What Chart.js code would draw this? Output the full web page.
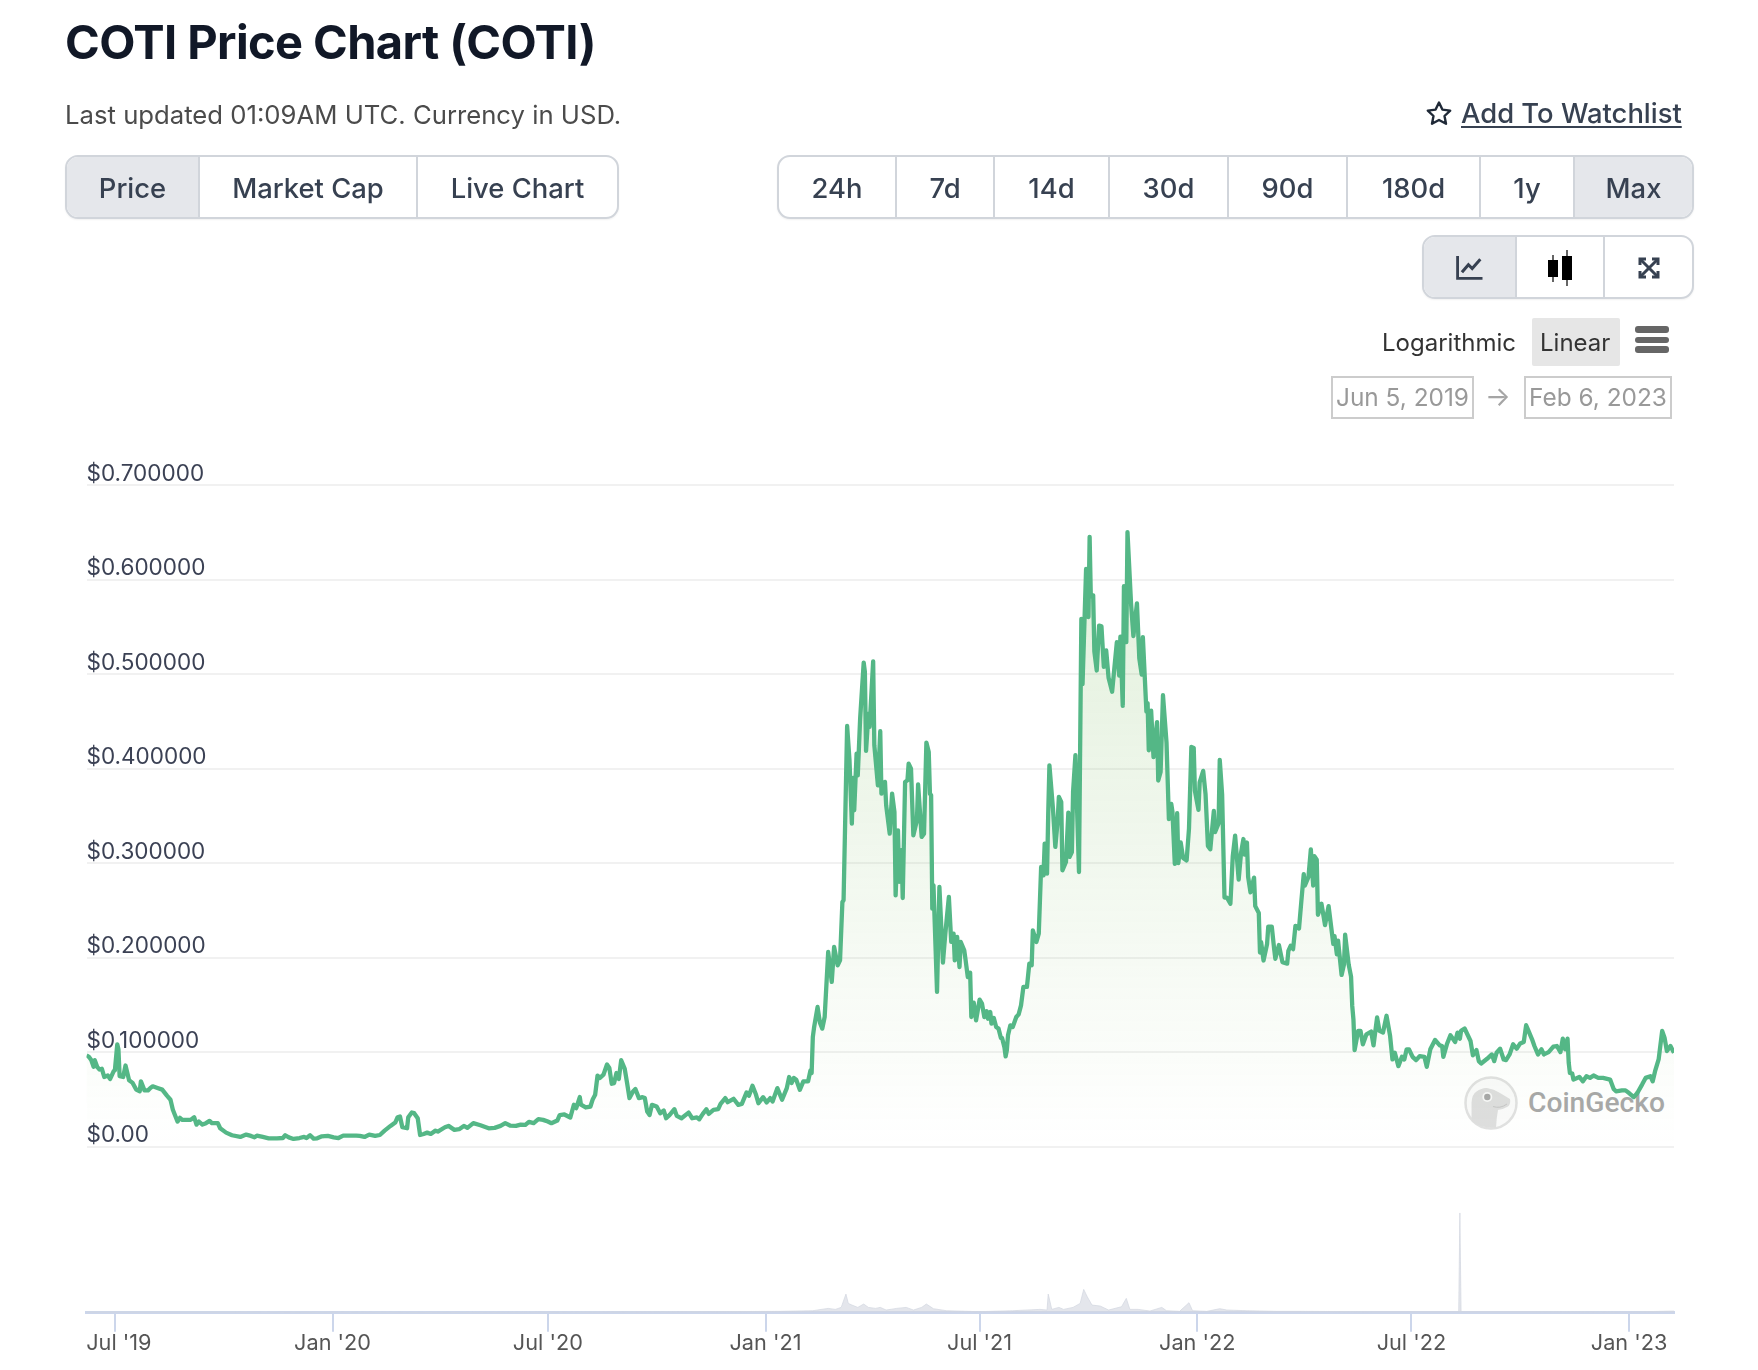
<!DOCTYPE html>
<html lang="en">
<head>
  <meta charset="UTF-8">
  <title>COTI Price Chart (COTI)</title>
  <style>
    html, body { margin: 0; padding: 0; background: #fff; }
    body { width: 1758px; height: 1370px; position: relative; overflow: hidden; font-family: Inter, 'Noto Sans', sans-serif; }
    .abs { position: absolute; white-space: nowrap; }
    h1 { margin: 0; left: 65px; top: 15px; font-size: 47px; line-height: 54px; font-weight: 700; color: #111827; letter-spacing: -0.6px; }
    .updated { left: 65px; top: 100px; font-size: 25.7px; line-height: 30px; color: #4b4b4b; }
    .watch { left: 1461px; top: 96px; font-size: 27.4px; line-height: 34px; font-weight: 500; color: #374151; text-decoration: underline; text-underline-offset: 3px; }
    .group { display: flex; box-sizing: border-box; height: 64px; border: 2px solid #d1d5db; border-radius: 13px; overflow: hidden; box-shadow: 0 1px 2px rgba(0,0,0,.06); background: #fff; }
    .group div { box-sizing: border-box; height: 100%; display: flex; align-items: center; justify-content: center; font-size: 27.4px; font-weight: 500; color: #374151; padding-top: 1px; border-right: 2px solid #d1d5db; }
    .group div:last-child { border-right: none; }
    .group .on { background: #e5e7eb; }
    .scale { top: 328px; font-size: 24px; line-height: 30px; color: #333; }
    .linear-bg { left: 1532px; top: 318px; width: 88px; height: 48px; background: #e6e6e6; border-radius: 2px; }
    .date { box-sizing: border-box; top: 376px; height: 43px; border: 2px solid #ccc; font-size: 24.4px; line-height: 39px; color: #999; text-align: center; }
    .bar { left: 1635px; width: 34px; height: 6.5px; border-radius: 3px; background: #666; }
    #chart { position: absolute; left: 0; top: 0; z-index: 2; }
    .mark { left: 1464px; top: 1076px; z-index: 1; opacity: .85; }
    .mark-text { left: 1528px; top: 1085px; z-index: 1; font-family: Roboto, sans-serif; font-size: 28.2px; line-height: 36px; font-weight: 500; color: #a8a8a8; }
    .ui { z-index: 3; }
  </style>
</head>
<body>

  <h1 class="abs ui">COTI Price Chart (COTI)</h1>
  <div class="abs ui updated">Last updated 01:09AM UTC. Currency in USD.</div>

  <svg class="abs ui" style="left:1425px;top:100px" width="28" height="27" viewBox="0 0 28 27">
    <path d="M14 2.5 L17.4 9.6 L25.2 10.6 L19.5 16 L21 23.8 L14 20 L7 23.8 L8.5 16 L2.8 10.6 L10.6 9.6 Z" fill="none" stroke="#1f2937" stroke-width="2.4" stroke-linejoin="round"/>
  </svg>
  <div class="abs ui watch">Add To Watchlist</div>

  <div class="abs ui group" style="left:65px;top:155px;width:554px">
    <div class="on" style="width:133px">Price</div>
    <div style="width:218px">Market Cap</div>
    <div style="width:199px">Live Chart</div>
  </div>

  <div class="abs ui group" style="left:777px;top:155px;width:917px">
    <div style="width:118px">24h</div>
    <div style="width:98px">7d</div>
    <div style="width:115px">14d</div>
    <div style="width:119px">30d</div>
    <div style="width:119px">90d</div>
    <div style="width:133px">180d</div>
    <div style="width:94px">1y</div>
    <div class="on" style="width:117px">Max</div>
  </div>

  <div class="abs ui group" style="left:1422px;top:235px;width:272px">
    <div class="on" style="width:93px">
      <svg width="29" height="26" viewBox="0 0 26 24"><path d="M2 1 V21.5 H25" fill="none" stroke="#374151" stroke-width="2.6"/><path d="M6 16 L12 9 L15.5 12.5 L23 4" fill="none" stroke="#374151" stroke-width="2.8"/></svg>
    </div>
    <div style="width:88px">
      <svg width="26" height="36" viewBox="0 0 26 36"><rect x="1" y="10" width="10" height="17" fill="#000"/><rect x="5.4" y="5" width="1.2" height="27" fill="#000"/><rect x="15" y="6" width="10" height="24" fill="#000"/><rect x="19.4" y="0" width="1.2" height="36" fill="#000"/></svg>
    </div>
    <div style="width:87px">
      <svg width="24" height="24" viewBox="0 0 24 24"><g fill="none" stroke="#374151" stroke-width="3"><path d="M3 9 V3 H9"/><path d="M15 3 H21 V9"/><path d="M21 15 V21 H15"/><path d="M9 21 H3 V15"/><path d="M4 4 L20 20"/><path d="M20 4 L4 20"/></g></svg>
    </div>
  </div>

  <div class="abs ui linear-bg"></div>
  <div class="abs ui scale" style="left:1382px">Logarithmic</div>
  <div class="abs ui scale" style="left:1540px">Linear</div>
  <div class="abs ui bar" style="top:326px"></div>
  <div class="abs ui bar" style="top:336.5px"></div>
  <div class="abs ui bar" style="top:346px"></div>

  <div class="abs ui date" style="left:1331px;width:143px">Jun 5, 2019</div>
  <div class="abs ui" style="left:1485px;top:382px;font-size:27px;line-height:30px;color:#a5a5a5">&#8594;</div>
  <div class="abs ui date" style="left:1524px;width:148px">Feb 6, 2023</div>

  <svg class="abs mark" width="54" height="54" viewBox="0 0 54 54">
    <circle cx="27" cy="27" r="25.5" fill="#fafafa" stroke="#dcdcdc" stroke-width="2.5"/>
    <path d="M7.5 45 V27 Q8 18 12.5 15.5 Q18 11.5 23 12 Q30 13 36 17 L46 23 Q47 28 44 30.5 Q39 33.5 34 34 Q32.5 42 32 51.5 Q18 53 7.5 45 Z" fill="#d9d9d9"/>
    <circle cx="23.3" cy="21" r="5" fill="#f6f6f6"/>
    <circle cx="23.3" cy="21" r="3.2" fill="#999"/>
    <path d="M29 30.5 Q36 33 43 28" fill="none" stroke="#bdbdbd" stroke-width="1"/>
  </svg>
  <div class="abs mark-text">CoinGecko</div>

  <canvas id="chart" width="1758" height="1370"></canvas>

  <script src="https://cdn.jsdelivr.net/npm/chart.js"></script>
  <script>
    // x values are days counted from 29 Jun 2019
    const priceDays = [
      -26, -24, -22, -20, -19, -17, -15, -13, -11, -8,
      -6, -3, -2, 0, 1, 2, 5, 7, 10, 13,
      16, 19, 20, 23, 26, 28, 30, 34, 38, 42,
      45, 47, 49, 51, 53, 55, 58, 62, 65, 67,
      69, 72, 75, 78, 80, 85, 87, 92, 97, 104,
      109, 113, 116, 118, 123, 128, 135, 140, 142, 145,
      149, 154, 158, 160, 163, 166, 169, 173, 178, 183,
      187, 191, 197, 202, 205, 209, 213, 218, 222, 226,
      231, 235, 237, 239, 241, 245, 246, 249, 251, 254,
      256, 259, 262, 265, 269, 271, 277, 280, 285, 289,
      293, 296, 301, 307, 314, 319, 324, 328, 332, 337,
      341, 345, 348, 352, 356, 360, 364, 367, 372, 374,
      378, 383, 386, 388, 391, 392, 396, 400, 402, 404,
      406, 408, 411, 414, 416, 418, 420, 422, 424, 426,
      429, 431, 433, 436, 438, 441, 444, 446, 448, 450,
      452, 456, 459, 462, 464, 467, 471, 473, 477, 483,
      486, 490, 492, 495, 498, 500, 504, 508, 510, 514,
      516, 521, 525, 528, 532, 534, 537, 540, 542, 546,
      549, 552, 554, 558, 562, 566, 568, 570, 572, 574,
      577, 580, 584, 586, 587, 588, 589, 592, 594, 596,
      598, 601, 604, 606, 609, 611, 613, 614, 617, 619,
      621, 622, 623, 625, 626, 628, 631, 632, 633, 635,
      636, 639, 640, 643, 645, 646, 649, 650, 653, 655,
      657, 658, 660, 661, 663, 664, 666, 668, 669, 671,
      673, 676, 677, 680, 682, 684, 686, 687, 688, 689,
      690, 693, 695, 698, 700, 703, 705, 707, 708, 710,
      712, 713, 716, 717, 719, 721, 722, 724, 726, 729,
      731, 733, 735, 736, 738, 739, 741, 743, 745, 747,
      748, 750, 751, 752, 753, 755, 757, 760, 762, 764,
      766, 769, 771, 773, 774, 777, 779, 781, 783, 784,
      786, 787, 788, 791, 793, 795, 796, 798, 799, 802,
      804, 805, 807, 808, 810, 813, 815, 816, 819, 821,
      822, 823, 825, 826, 828, 830, 832, 834, 836, 838,
      841, 845, 847, 848, 850, 851, 853, 854, 857, 859,
      862, 864, 866, 867, 870, 871, 872, 874, 876, 879,
      880, 882, 884, 887, 889, 891, 892, 894, 896, 897,
      899, 901, 904, 906, 908, 910, 911, 914, 915, 918,
      920, 922, 924, 927, 928, 931, 932, 934, 936, 938,
      941, 943, 945, 948, 950, 952, 953, 955, 956, 958,
      961, 962, 965, 966, 967, 969, 972, 973, 976, 978,
      979, 982, 985, 989, 990, 992, 994, 996, 999, 1001,
      1003, 1004, 1007, 1009, 1011, 1012, 1014, 1015, 1018, 1021,
      1024, 1028, 1029, 1031, 1032, 1035, 1037, 1038, 1041, 1043,
      1044, 1045, 1046, 1049, 1051, 1053, 1056, 1060, 1062, 1065,
      1067, 1070, 1073, 1076, 1078, 1080, 1083, 1086, 1088, 1090,
      1092, 1095, 1098, 1101, 1105, 1107, 1110, 1114, 1118, 1120,
      1121, 1124, 1127, 1131, 1133, 1135, 1136, 1139, 1144, 1146,
      1149, 1151, 1153, 1158, 1162, 1164, 1166, 1169, 1172, 1174,
      1177, 1180, 1183, 1186, 1189, 1191, 1193, 1196, 1198, 1201,
      1204, 1206, 1210, 1214, 1217, 1220, 1222, 1224, 1226, 1227,
      1228, 1230, 1231, 1236, 1239, 1242, 1245, 1248, 1252, 1256,
      1262, 1265, 1267, 1272, 1275, 1278, 1282, 1285, 1289, 1292,
      1296, 1298, 1300, 1303, 1306, 1308, 1310, 1313, 1316
    ];
    const priceValues = [
      .0966, .0951, .0916, .0845, .0916, .0845, .0817, .0824, .0738, .0753,
      .0717, .0799, .0809, .1083, .1030, .0746, .0738, .0859, .0703, .0675,
      .0604, .0586, .0692, .0596, .0596, .0621, .0639, .0621, .0604, .0540,
      .0497, .0391, .0327, .0266, .0305, .0284, .0284, .0284, .0312, .0234,
      .0266, .0234, .0249, .0273, .0249, .0249, .0195, .0149, .0121, .0103,
      .0128, .0114, .0099, .0117, .0103, .0089, .0089, .0092, .0121, .0099,
      .0082, .0092, .0103, .0092, .0121, .0085, .0089, .0110, .0114, .0099,
      .0092, .0117, .0117, .0117, .0114, .0103, .0128, .0114, .0124, .0170,
      .0220, .0256, .0312, .0320, .0206, .0195, .0312, .0362, .0355, .0302,
      .0124, .0135, .0149, .0135, .0170, .0160, .0206, .0220, .0178, .0185,
      .0220, .0199, .0249, .0227, .0195, .0199, .0220, .0249, .0224, .0220,
      .0234, .0231, .0263, .0249, .0291, .0284, .0266, .0249, .0277, .0334,
      .0341, .0309, .0444, .0408, .0525, .0444, .0415, .0425, .0503, .0549,
      .0752, .0727, .0762, .0869, .0833, .0666, .0673, .0780, .0716, .0915,
      .0823, .0673, .0514, .0585, .0610, .0514, .0524, .0514, .0372, .0336,
      .0443, .0425, .0354, .0382, .0301, .0336, .0397, .0326, .0301, .0361,
      .0301, .0311, .0290, .0347, .0397, .0347, .0390, .0397, .0453, .0514,
      .0471, .0507, .0443, .0453, .0574, .0539, .0645, .0549, .0460, .0524,
      .0468, .0514, .0478, .0620, .0496, .0620, .0737, .0673, .0727, .0709,
      .0602, .0691, .0691, .0808, .0780, .1160, .1256, .1478, .1312, .1249,
      .1372, .2060, .1743, .2113, .1919, .1972, .2589, .2607, .4451, .4088,
      .3418, .3901, .3559, .4158, .3929, .4529, .5121, .5023, .4187, .4582,
      .4441, .5135, .4247, .3823, .4395, .3735, .3859, .3612, .3312, .3735,
      .3541, .2659, .3347, .2801, .3136, .2631, .3859, .3876, .4053, .4000,
      .3294, .3453, .3834, .3277, .3312, .4275, .4176, .3735, .3718, .2518,
      .2765, .1637, .2748, .1947, .2254, .2642, .2166, .2254, .1972, .2219,
      .1901, .2166, .2078, .1989, .1795, .1841, .1372, .1524, .1337, .1556,
      .1513, .1372, .1432, .1354, .1425, .1302, .1362, .1266, .1249, .1150,
      .1150, .1050, .0955, .1020, .1178, .1284, .1266, .1372, .1400, .1495,
      .1690, .1690, .1936, .1919, .2289, .2166, .2254, .2959, .2871, .3206,
      .2889, .3524, .4035, .3577, .3171, .3453, .3700, .3647, .2924, .3012,
      .3534, .3065, .3118, .3753, .4141, .2906, .5584, .4893, .6112, .5603,
      .6451, .5821, .5832, .5239, .5038, .5512, .5504, .5075, .5250, .4962,
      .4813, .5337, .4984, .5395, .4663, .5930, .5337, .6502, .5748, .5402,
      .5748, .5166, .4995, .5391, .4602, .4693, .4194, .4613, .4121, .4492,
      .3874, .3965, .4776, .4274, .3466, .3626, .3546, .2993, .3528, .3000,
      .3218, .3055, .3029, .3364, .4230, .4219, .3764, .3564, .3855, .3976,
      .3728, .3182, .3146, .3553, .3328, .3419, .4092, .3728, .2636, .2636,
      .2570, .3073, .3291, .2825, .3109, .3255, .3091, .3218, .2854, .2691,
      .2847, .2545, .2472, .2054, .2163, .1970, .2145, .2327, .2327, .2090,
      .1988, .2134, .1952, .1937, .2072, .2126, .2090, .2337, .2308, .2600,
      .2884, .2763, .2854, .3146, .2763, .3073, .3036, .2454, .2570, .2345,
      .2545, .2145, .2228, .2035, .2181, .1817, .1926, .2243, .1926, .1799,
      .1489, .1349, .1022, .1225, .1225, .1083, .1189, .1218, .1072, .1367,
      .1225, .1207, .1385, .1172, .0923, .0994, .0852, .0951, .0923, .1030,
      .1030, .0951, .0916, .0959, .0951, .0845, .1030, .1129, .1072, .1065,
      .0951, .1083, .1179, .1108, .1207, .1143, .1225, .1250, .1118, .0966,
      .1022, .0905, .0880, .0930, .0976, .0905, .0994, .1037, .0923, .0916,
      .0976, .1083, .1037, .1093, .1108, .1285, .1225, .1136, .1065, .0976,
      .1030, .0976, .1001, .1058, .1065, .1001, .1143, .1030, .1143, .0888,
      .0781, .0774, .0710, .0738, .0692, .0746, .0728, .0753, .0728, .0728,
      .0710, .0611, .0586, .0596, .0596, .0568, .0525, .0568, .0657, .0728,
      .0746, .0692, .0799, .0923, .1225, .1154, .1012, .1065, .0994
    ];

    // traded volume, in billions of USD (estimated)
    const volumeDays = [
      -26, 100, 300, 500, 560, 588, 601, 607, 612, 616, 618, 621, 626, 631, 635, 641, 645, 650, 659, 667,
      673, 680, 684, 690, 701, 729, 757, 780, 786, 787, 790, 796, 800, 808, 814, 817, 820, 824, 831, 838,
      849, 853, 856, 863, 873, 883, 887, 898, 906, 909, 921, 932, 938, 955, 980, 1000, 1060, 1134, 1135, 1136,
      1200, 1280, 1316
    ];
    const volumeValues = [
      .02, .02, .01, .03, .04, .06, .13, .10, .16, .56, .28, .23, .16, .26, .16, .13, .16, .08, .13, .16,
      .08, .16, .26, .12, .06, .03, .06, .10, .08, .56, .10, .16, .10, .16, .28, .70, .48, .23, .20, .08,
      .18, .43, .10, .10, .05, .16, .06, .04, .30, .06, .04, .12, .08, .06, .04, .04, .03, .03, 3.00, .03,
      .03, .02, .05
    ];

    const xTickDays = [-2, 182, 364, 548, 729, 913, 1094, 1278];
    const xTickLabels = ["Jul '19", "Jan '20", "Jul '20", "Jan '21", "Jul '21", "Jan '22", "Jul '22", "Jan '23"];
    const yTickValues = [0, 0.1, 0.2, 0.3, 0.4, 0.5, 0.6, 0.7];
    const yTickLabels = ['$0.00', '$0.100000', '$0.200000', '$0.300000', '$0.400000', '$0.500000', '$0.600000', '$0.700000'];

    function areaFill(context) {
      const chart = context.chart;
      if (!chart.chartArea) return 'rgba(0,0,0,0)';
      const y = chart.scales.y;
      const gradient = chart.ctx.createLinearGradient(0, y.getPixelForValue(0.65), 0, y.getPixelForValue(0));
      gradient.addColorStop(0, 'rgba(120,185,90,0.22)');
      gradient.addColorStop(1, 'rgba(120,185,90,0)');
      return gradient;
    }

    // the first date label sits inside the plot, as in the original
    const nudgeFirstLabel = {
      id: 'nudgeFirstLabel',
      beforeDraw(chart) {
        const scale = chart.scales.x;
        const items = scale.getLabelItems(chart.chartArea);
        if (items.length) items[0].options.translation[0] = scale.getPixelForValue(xTickDays[0]) + 4;
      }
    };

    new Chart(document.getElementById('chart'), {
      type: 'line',
      plugins: [nudgeFirstLabel],
      data: {
        datasets: [
          {
            label: 'Price',
            data: priceDays.map((d, i) => ({ x: d, y: priceValues[i] })),
            yAxisID: 'y',
            borderColor: '#54b786',
            borderWidth: 4.3,
            borderJoinStyle: 'round',
            backgroundColor: areaFill,
            fill: 'origin',
            pointRadius: 0,
            tension: 0
          },
          {
            label: 'Volume',
            data: volumeDays.map((d, i) => ({ x: d, y: volumeValues[i] })),
            yAxisID: 'volume',
            borderColor: 'rgba(210,213,224,0.7)',
            borderWidth: 1,
            backgroundColor: 'rgba(210,213,224,0.6)',
            fill: 'origin',
            pointRadius: 0,
            tension: 0
          }
        ]
      },
      options: {
        responsive: false,
        animation: false,
        layout: { padding: { left: 86.5, right: 84, top: 485, bottom: 0 } },
        plugins: { legend: { display: false }, tooltip: { enabled: false } },
        scales: {
          x: {
            type: 'linear',
            min: -26,
            max: 1316,
            afterBuildTicks(scale) { scale.ticks = xTickDays.map(v => ({ value: v })); },
            afterFit(scale) { scale.height = 57.3; },
            border: { color: '#ccd6eb', width: 3 },
            grid: { drawOnChartArea: false, color: '#ccd6eb', lineWidth: 2, tickLength: 19 },
            ticks: {
              autoSkip: false,
              maxRotation: 0,
              padding: -1,
              color: '#555',
              font: { family: 'Inter', size: 21.7 },
              callback: (v, i) => xTickLabels[i]
            }
          },
          y: {
            min: -0.1756,
            max: 0.7,
            afterBuildTicks(scale) { scale.ticks = yTickValues.map(v => ({ value: v })); },
            border: { display: false },
            grid: { color: '#f1f1f1', lineWidth: 2, drawTicks: false },
            ticks: {
              mirror: true,
              padding: 0,
              labelOffset: -11,
              color: '#3b4154',
              font: { family: 'Inter', size: 22.5 },
              callback: (v, i) => yTickLabels[i]
            }
          },
          volume: {
            display: false,
            min: 0,
            max: 24.9
          }
        }
      }
    });
  </script>

</body>
</html>
